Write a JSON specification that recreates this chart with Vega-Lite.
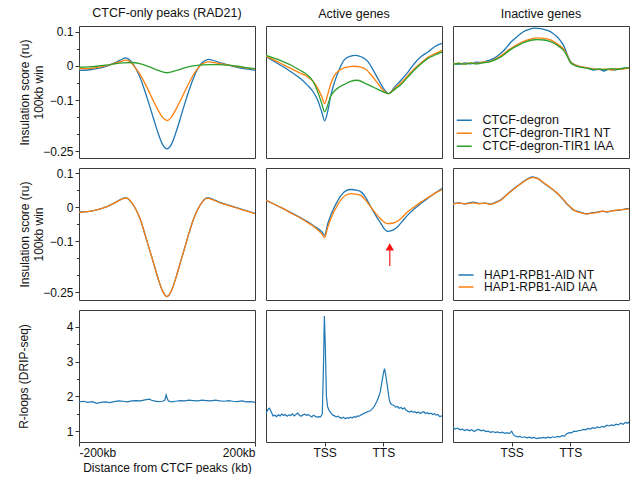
{
  "$schema": "https://vega.github.io/schema/vega-lite/v6.json",
  "background": "white",
  "padding": {"left": 16, "top": 6, "right": 0, "bottom": 0},
  "autosize": {"type": "pad"},
  "config": {
    "font": "Liberation Sans",
    "view": {"stroke": "#3a3a3a", "strokeWidth": 1},
    "axis": {"domain": false, "grid": false, "labelFont": "Liberation Sans", "labelFontSize": 12, "labelColor": "#111", "tickColor": "#333", "titleFont": "Liberation Sans", "titleFontSize": 12, "titleFontWeight": "normal", "titleColor": "#111", "labelPadding": 2},
    "title": {"font": "Liberation Sans", "fontSize": 12.5, "fontWeight": "normal", "color": "#111", "offset": 6, "anchor": "middle"},
    "legend": {"labelFont": "Liberation Sans", "labelFontSize": 12.5, "labelColor": "#111", "symbolType": "M-2.5,0H2.5", "symbolStrokeWidth": 1.5, "symbolSize": 36, "labelOffset": 12, "padding": 0, "offset": 5, "rowPadding": -4, "orient": "bottom-left", "title": null}
  },
  "columns": 3,
  "bounds": "flush",
  "spacing": {"row": 10, "column": 11},
  "resolve": {"scale": {"color": "independent"}},
  "datasets": {
    "r1c1": [
      {"x":-200,"s":"CTCF-degron","v":-0.013},{"x":-180,"s":"CTCF-degron","v":-0.012},{"x":-160,"s":"CTCF-degron","v":-0.008},{"x":-140,"s":"CTCF-degron","v":-0.002},{"x":-120,"s":"CTCF-degron","v":0.008},{"x":-100,"s":"CTCF-degron","v":0.021},{"x":-95,"s":"CTCF-degron","v":0.0235},{"x":-90,"s":"CTCF-degron","v":0.022},{"x":-80,"s":"CTCF-degron","v":0.011},{"x":-70,"s":"CTCF-degron","v":-0.01},{"x":-60,"s":"CTCF-degron","v":-0.038},{"x":-50,"s":"CTCF-degron","v":-0.075},{"x":-40,"s":"CTCF-degron","v":-0.115},{"x":-30,"s":"CTCF-degron","v":-0.157},{"x":-20,"s":"CTCF-degron","v":-0.198},{"x":-10,"s":"CTCF-degron","v":-0.231},{"x":0,"s":"CTCF-degron","v":-0.243},{"x":10,"s":"CTCF-degron","v":-0.23},{"x":20,"s":"CTCF-degron","v":-0.196},{"x":30,"s":"CTCF-degron","v":-0.155},{"x":40,"s":"CTCF-degron","v":-0.112},{"x":50,"s":"CTCF-degron","v":-0.072},{"x":60,"s":"CTCF-degron","v":-0.036},{"x":70,"s":"CTCF-degron","v":-0.008},{"x":80,"s":"CTCF-degron","v":0.01},{"x":90,"s":"CTCF-degron","v":0.018},{"x":95,"s":"CTCF-degron","v":0.019},{"x":100,"s":"CTCF-degron","v":0.018},{"x":120,"s":"CTCF-degron","v":0.01},{"x":140,"s":"CTCF-degron","v":0.002},{"x":160,"s":"CTCF-degron","v":-0.004},{"x":180,"s":"CTCF-degron","v":-0.009},{"x":200,"s":"CTCF-degron","v":-0.013},
      {"x":-200,"s":"CTCF-degron-TIR1 NT","v":-0.008},{"x":-180,"s":"CTCF-degron-TIR1 NT","v":-0.008},{"x":-160,"s":"CTCF-degron-TIR1 NT","v":-0.005},{"x":-140,"s":"CTCF-degron-TIR1 NT","v":0.0},{"x":-120,"s":"CTCF-degron-TIR1 NT","v":0.007},{"x":-100,"s":"CTCF-degron-TIR1 NT","v":0.015},{"x":-95,"s":"CTCF-degron-TIR1 NT","v":0.017},{"x":-90,"s":"CTCF-degron-TIR1 NT","v":0.016},{"x":-80,"s":"CTCF-degron-TIR1 NT","v":0.007},{"x":-70,"s":"CTCF-degron-TIR1 NT","v":-0.009},{"x":-60,"s":"CTCF-degron-TIR1 NT","v":-0.028},{"x":-50,"s":"CTCF-degron-TIR1 NT","v":-0.052},{"x":-40,"s":"CTCF-degron-TIR1 NT","v":-0.078},{"x":-30,"s":"CTCF-degron-TIR1 NT","v":-0.105},{"x":-20,"s":"CTCF-degron-TIR1 NT","v":-0.13},{"x":-10,"s":"CTCF-degron-TIR1 NT","v":-0.151},{"x":0,"s":"CTCF-degron-TIR1 NT","v":-0.16},{"x":10,"s":"CTCF-degron-TIR1 NT","v":-0.15},{"x":20,"s":"CTCF-degron-TIR1 NT","v":-0.128},{"x":30,"s":"CTCF-degron-TIR1 NT","v":-0.103},{"x":40,"s":"CTCF-degron-TIR1 NT","v":-0.076},{"x":50,"s":"CTCF-degron-TIR1 NT","v":-0.05},{"x":60,"s":"CTCF-degron-TIR1 NT","v":-0.026},{"x":70,"s":"CTCF-degron-TIR1 NT","v":-0.007},{"x":80,"s":"CTCF-degron-TIR1 NT","v":0.006},{"x":90,"s":"CTCF-degron-TIR1 NT","v":0.011},{"x":95,"s":"CTCF-degron-TIR1 NT","v":0.012},{"x":100,"s":"CTCF-degron-TIR1 NT","v":0.011},{"x":120,"s":"CTCF-degron-TIR1 NT","v":0.007},{"x":140,"s":"CTCF-degron-TIR1 NT","v":0.002},{"x":160,"s":"CTCF-degron-TIR1 NT","v":-0.002},{"x":180,"s":"CTCF-degron-TIR1 NT","v":-0.006},{"x":200,"s":"CTCF-degron-TIR1 NT","v":-0.009},
      {"x":-200,"s":"CTCF-degron-TIR1 IAA","v":-0.004},{"x":-180,"s":"CTCF-degron-TIR1 IAA","v":-0.003},{"x":-160,"s":"CTCF-degron-TIR1 IAA","v":-0.001},{"x":-140,"s":"CTCF-degron-TIR1 IAA","v":0.002},{"x":-120,"s":"CTCF-degron-TIR1 IAA","v":0.006},{"x":-100,"s":"CTCF-degron-TIR1 IAA","v":0.009},{"x":-80,"s":"CTCF-degron-TIR1 IAA","v":0.01},{"x":-60,"s":"CTCF-degron-TIR1 IAA","v":0.006},{"x":-40,"s":"CTCF-degron-TIR1 IAA","v":-0.003},{"x":-20,"s":"CTCF-degron-TIR1 IAA","v":-0.013},{"x":0,"s":"CTCF-degron-TIR1 IAA","v":-0.02},{"x":20,"s":"CTCF-degron-TIR1 IAA","v":-0.014},{"x":40,"s":"CTCF-degron-TIR1 IAA","v":-0.006},{"x":60,"s":"CTCF-degron-TIR1 IAA","v":0.0},{"x":80,"s":"CTCF-degron-TIR1 IAA","v":0.003},{"x":100,"s":"CTCF-degron-TIR1 IAA","v":0.004},{"x":120,"s":"CTCF-degron-TIR1 IAA","v":0.004},{"x":140,"s":"CTCF-degron-TIR1 IAA","v":0.002},{"x":160,"s":"CTCF-degron-TIR1 IAA","v":-0.001},{"x":180,"s":"CTCF-degron-TIR1 IAA","v":-0.005},{"x":200,"s":"CTCF-degron-TIR1 IAA","v":-0.008}
    ],
    "r1c2": [
      {"x":0,"s":"CTCF-degron","v":0.028},{"x":0.15,"s":"CTCF-degron","v":0.012},{"x":0.3,"s":"CTCF-degron","v":-0.003},{"x":0.43,"s":"CTCF-degron","v":-0.018},{"x":0.57,"s":"CTCF-degron","v":-0.035},{"x":0.71,"s":"CTCF-degron","v":-0.057},{"x":0.8,"s":"CTCF-degron","v":-0.075},{"x":0.88,"s":"CTCF-degron","v":-0.1},{"x":0.95,"s":"CTCF-degron","v":-0.135},{"x":1.0,"s":"CTCF-degron","v":-0.161},{"x":1.05,"s":"CTCF-degron","v":-0.135},{"x":1.1,"s":"CTCF-degron","v":-0.09},{"x":1.16,"s":"CTCF-degron","v":-0.052},{"x":1.25,"s":"CTCF-degron","v":-0.01},{"x":1.33,"s":"CTCF-degron","v":0.017},{"x":1.43,"s":"CTCF-degron","v":0.028},{"x":1.53,"s":"CTCF-degron","v":0.031},{"x":1.63,"s":"CTCF-degron","v":0.026},{"x":1.73,"s":"CTCF-degron","v":0.014},{"x":1.82,"s":"CTCF-degron","v":-0.01},{"x":1.9,"s":"CTCF-degron","v":-0.035},{"x":2.0,"s":"CTCF-degron","v":-0.065},{"x":2.09,"s":"CTCF-degron","v":-0.081},{"x":2.2,"s":"CTCF-degron","v":-0.06},{"x":2.3,"s":"CTCF-degron","v":-0.042},{"x":2.42,"s":"CTCF-degron","v":-0.018},{"x":2.53,"s":"CTCF-degron","v":0.007},{"x":2.65,"s":"CTCF-degron","v":0.028},{"x":2.76,"s":"CTCF-degron","v":0.041},{"x":2.88,"s":"CTCF-degron","v":0.057},{"x":3.0,"s":"CTCF-degron","v":0.066},
      {"x":0,"s":"CTCF-degron-TIR1 NT","v":0.028},{"x":0.15,"s":"CTCF-degron-TIR1 NT","v":0.016},{"x":0.3,"s":"CTCF-degron-TIR1 NT","v":0.003},{"x":0.43,"s":"CTCF-degron-TIR1 NT","v":-0.008},{"x":0.57,"s":"CTCF-degron-TIR1 NT","v":-0.02},{"x":0.71,"s":"CTCF-degron-TIR1 NT","v":-0.032},{"x":0.8,"s":"CTCF-degron-TIR1 NT","v":-0.045},{"x":0.88,"s":"CTCF-degron-TIR1 NT","v":-0.065},{"x":0.95,"s":"CTCF-degron-TIR1 NT","v":-0.09},{"x":1.0,"s":"CTCF-degron-TIR1 NT","v":-0.11},{"x":1.05,"s":"CTCF-degron-TIR1 NT","v":-0.085},{"x":1.1,"s":"CTCF-degron-TIR1 NT","v":-0.055},{"x":1.16,"s":"CTCF-degron-TIR1 NT","v":-0.03},{"x":1.25,"s":"CTCF-degron-TIR1 NT","v":-0.013},{"x":1.33,"s":"CTCF-degron-TIR1 NT","v":-0.006},{"x":1.43,"s":"CTCF-degron-TIR1 NT","v":-0.002},{"x":1.5,"s":"CTCF-degron-TIR1 NT","v":-0.001},{"x":1.6,"s":"CTCF-degron-TIR1 NT","v":-0.003},{"x":1.7,"s":"CTCF-degron-TIR1 NT","v":-0.01},{"x":1.8,"s":"CTCF-degron-TIR1 NT","v":-0.028},{"x":1.9,"s":"CTCF-degron-TIR1 NT","v":-0.05},{"x":2.0,"s":"CTCF-degron-TIR1 NT","v":-0.072},{"x":2.09,"s":"CTCF-degron-TIR1 NT","v":-0.081},{"x":2.2,"s":"CTCF-degron-TIR1 NT","v":-0.065},{"x":2.3,"s":"CTCF-degron-TIR1 NT","v":-0.05},{"x":2.42,"s":"CTCF-degron-TIR1 NT","v":-0.028},{"x":2.53,"s":"CTCF-degron-TIR1 NT","v":-0.008},{"x":2.65,"s":"CTCF-degron-TIR1 NT","v":0.01},{"x":2.76,"s":"CTCF-degron-TIR1 NT","v":0.025},{"x":2.88,"s":"CTCF-degron-TIR1 NT","v":0.036},{"x":3.0,"s":"CTCF-degron-TIR1 NT","v":0.046},
      {"x":0,"s":"CTCF-degron-TIR1 IAA","v":0.031},{"x":0.15,"s":"CTCF-degron-TIR1 IAA","v":0.022},{"x":0.3,"s":"CTCF-degron-TIR1 IAA","v":0.012},{"x":0.43,"s":"CTCF-degron-TIR1 IAA","v":0.002},{"x":0.57,"s":"CTCF-degron-TIR1 IAA","v":-0.012},{"x":0.71,"s":"CTCF-degron-TIR1 IAA","v":-0.027},{"x":0.8,"s":"CTCF-degron-TIR1 IAA","v":-0.045},{"x":0.88,"s":"CTCF-degron-TIR1 IAA","v":-0.075},{"x":0.95,"s":"CTCF-degron-TIR1 IAA","v":-0.11},{"x":1.0,"s":"CTCF-degron-TIR1 IAA","v":-0.135},{"x":1.05,"s":"CTCF-degron-TIR1 IAA","v":-0.115},{"x":1.1,"s":"CTCF-degron-TIR1 IAA","v":-0.09},{"x":1.16,"s":"CTCF-degron-TIR1 IAA","v":-0.075},{"x":1.25,"s":"CTCF-degron-TIR1 IAA","v":-0.062},{"x":1.33,"s":"CTCF-degron-TIR1 IAA","v":-0.055},{"x":1.43,"s":"CTCF-degron-TIR1 IAA","v":-0.046},{"x":1.56,"s":"CTCF-degron-TIR1 IAA","v":-0.042},{"x":1.7,"s":"CTCF-degron-TIR1 IAA","v":-0.052},{"x":1.8,"s":"CTCF-degron-TIR1 IAA","v":-0.06},{"x":1.9,"s":"CTCF-degron-TIR1 IAA","v":-0.068},{"x":2.0,"s":"CTCF-degron-TIR1 IAA","v":-0.076},{"x":2.09,"s":"CTCF-degron-TIR1 IAA","v":-0.081},{"x":2.2,"s":"CTCF-degron-TIR1 IAA","v":-0.068},{"x":2.3,"s":"CTCF-degron-TIR1 IAA","v":-0.055},{"x":2.42,"s":"CTCF-degron-TIR1 IAA","v":-0.032},{"x":2.53,"s":"CTCF-degron-TIR1 IAA","v":-0.012},{"x":2.65,"s":"CTCF-degron-TIR1 IAA","v":0.007},{"x":2.76,"s":"CTCF-degron-TIR1 IAA","v":0.022},{"x":2.88,"s":"CTCF-degron-TIR1 IAA","v":0.032},{"x":3.0,"s":"CTCF-degron-TIR1 IAA","v":0.041}
    ],
    "r1c3": [
      {"x":0,"s":"CTCF-degron","v":0.007},{"x":0.1,"s":"CTCF-degron","v":0.005},{"x":0.2,"s":"CTCF-degron","v":0.009},{"x":0.3,"s":"CTCF-degron","v":0.006},{"x":0.4,"s":"CTCF-degron","v":0.011},{"x":0.5,"s":"CTCF-degron","v":0.01},{"x":0.58,"s":"CTCF-degron","v":0.015},{"x":0.7,"s":"CTCF-degron","v":0.022},{"x":0.8,"s":"CTCF-degron","v":0.035},{"x":0.87,"s":"CTCF-degron","v":0.046},{"x":0.95,"s":"CTCF-degron","v":0.062},{"x":1.02,"s":"CTCF-degron","v":0.075},{"x":1.1,"s":"CTCF-degron","v":0.087},{"x":1.2,"s":"CTCF-degron","v":0.1},{"x":1.3,"s":"CTCF-degron","v":0.107},{"x":1.38,"s":"CTCF-degron","v":0.111},{"x":1.45,"s":"CTCF-degron","v":0.11},{"x":1.53,"s":"CTCF-degron","v":0.108},{"x":1.61,"s":"CTCF-degron","v":0.104},{"x":1.7,"s":"CTCF-degron","v":0.096},{"x":1.77,"s":"CTCF-degron","v":0.086},{"x":1.83,"s":"CTCF-degron","v":0.074},{"x":1.9,"s":"CTCF-degron","v":0.055},{"x":1.95,"s":"CTCF-degron","v":0.032},{"x":2.0,"s":"CTCF-degron","v":0.013},{"x":2.08,"s":"CTCF-degron","v":0.003},{"x":2.18,"s":"CTCF-degron","v":-0.003},{"x":2.3,"s":"CTCF-degron","v":-0.007},{"x":2.4,"s":"CTCF-degron","v":-0.012},{"x":2.5,"s":"CTCF-degron","v":-0.01},{"x":2.57,"s":"CTCF-degron","v":-0.015},{"x":2.65,"s":"CTCF-degron","v":-0.01},{"x":2.75,"s":"CTCF-degron","v":-0.012},{"x":2.85,"s":"CTCF-degron","v":-0.008},{"x":3.0,"s":"CTCF-degron","v":-0.006},
      {"x":0,"s":"CTCF-degron-TIR1 NT","v":0.006},{"x":0.1,"s":"CTCF-degron-TIR1 NT","v":0.008},{"x":0.2,"s":"CTCF-degron-TIR1 NT","v":0.006},{"x":0.3,"s":"CTCF-degron-TIR1 NT","v":0.009},{"x":0.4,"s":"CTCF-degron-TIR1 NT","v":0.007},{"x":0.5,"s":"CTCF-degron-TIR1 NT","v":0.011},{"x":0.6,"s":"CTCF-degron-TIR1 NT","v":0.012},{"x":0.7,"s":"CTCF-degron-TIR1 NT","v":0.018},{"x":0.8,"s":"CTCF-degron-TIR1 NT","v":0.028},{"x":0.87,"s":"CTCF-degron-TIR1 NT","v":0.036},{"x":0.95,"s":"CTCF-degron-TIR1 NT","v":0.047},{"x":1.05,"s":"CTCF-degron-TIR1 NT","v":0.058},{"x":1.15,"s":"CTCF-degron-TIR1 NT","v":0.068},{"x":1.25,"s":"CTCF-degron-TIR1 NT","v":0.075},{"x":1.35,"s":"CTCF-degron-TIR1 NT","v":0.08},{"x":1.44,"s":"CTCF-degron-TIR1 NT","v":0.082},{"x":1.55,"s":"CTCF-degron-TIR1 NT","v":0.081},{"x":1.65,"s":"CTCF-degron-TIR1 NT","v":0.077},{"x":1.75,"s":"CTCF-degron-TIR1 NT","v":0.068},{"x":1.83,"s":"CTCF-degron-TIR1 NT","v":0.058},{"x":1.89,"s":"CTCF-degron-TIR1 NT","v":0.049},{"x":1.95,"s":"CTCF-degron-TIR1 NT","v":0.03},{"x":2.0,"s":"CTCF-degron-TIR1 NT","v":0.012},{"x":2.08,"s":"CTCF-degron-TIR1 NT","v":0.003},{"x":2.18,"s":"CTCF-degron-TIR1 NT","v":-0.002},{"x":2.3,"s":"CTCF-degron-TIR1 NT","v":-0.006},{"x":2.4,"s":"CTCF-degron-TIR1 NT","v":-0.009},{"x":2.5,"s":"CTCF-degron-TIR1 NT","v":-0.011},{"x":2.6,"s":"CTCF-degron-TIR1 NT","v":-0.009},{"x":2.7,"s":"CTCF-degron-TIR1 NT","v":-0.012},{"x":2.8,"s":"CTCF-degron-TIR1 NT","v":-0.008},{"x":2.9,"s":"CTCF-degron-TIR1 NT","v":-0.009},{"x":3.0,"s":"CTCF-degron-TIR1 NT","v":-0.006},
      {"x":0,"s":"CTCF-degron-TIR1 IAA","v":0.005},{"x":0.1,"s":"CTCF-degron-TIR1 IAA","v":0.007},{"x":0.2,"s":"CTCF-degron-TIR1 IAA","v":0.005},{"x":0.3,"s":"CTCF-degron-TIR1 IAA","v":0.008},{"x":0.4,"s":"CTCF-degron-TIR1 IAA","v":0.006},{"x":0.5,"s":"CTCF-degron-TIR1 IAA","v":0.009},{"x":0.6,"s":"CTCF-degron-TIR1 IAA","v":0.011},{"x":0.7,"s":"CTCF-degron-TIR1 IAA","v":0.016},{"x":0.8,"s":"CTCF-degron-TIR1 IAA","v":0.025},{"x":0.87,"s":"CTCF-degron-TIR1 IAA","v":0.033},{"x":0.95,"s":"CTCF-degron-TIR1 IAA","v":0.044},{"x":1.05,"s":"CTCF-degron-TIR1 IAA","v":0.055},{"x":1.15,"s":"CTCF-degron-TIR1 IAA","v":0.064},{"x":1.25,"s":"CTCF-degron-TIR1 IAA","v":0.071},{"x":1.35,"s":"CTCF-degron-TIR1 IAA","v":0.076},{"x":1.44,"s":"CTCF-degron-TIR1 IAA","v":0.077},{"x":1.55,"s":"CTCF-degron-TIR1 IAA","v":0.076},{"x":1.65,"s":"CTCF-degron-TIR1 IAA","v":0.072},{"x":1.75,"s":"CTCF-degron-TIR1 IAA","v":0.064},{"x":1.83,"s":"CTCF-degron-TIR1 IAA","v":0.054},{"x":1.89,"s":"CTCF-degron-TIR1 IAA","v":0.045},{"x":1.95,"s":"CTCF-degron-TIR1 IAA","v":0.027},{"x":2.0,"s":"CTCF-degron-TIR1 IAA","v":0.01},{"x":2.08,"s":"CTCF-degron-TIR1 IAA","v":0.001},{"x":2.18,"s":"CTCF-degron-TIR1 IAA","v":-0.004},{"x":2.3,"s":"CTCF-degron-TIR1 IAA","v":-0.007},{"x":2.4,"s":"CTCF-degron-TIR1 IAA","v":-0.01},{"x":2.5,"s":"CTCF-degron-TIR1 IAA","v":-0.009},{"x":2.6,"s":"CTCF-degron-TIR1 IAA","v":-0.011},{"x":2.7,"s":"CTCF-degron-TIR1 IAA","v":-0.008},{"x":2.8,"s":"CTCF-degron-TIR1 IAA","v":-0.01},{"x":2.9,"s":"CTCF-degron-TIR1 IAA","v":-0.007},{"x":3.0,"s":"CTCF-degron-TIR1 IAA","v":-0.005}
    ],
    "r2c1": [
      {"x":-200,"s":"HAP1-RPB1-AID NT","v":-0.014},{"x":-180,"s":"HAP1-RPB1-AID NT","v":-0.013},{"x":-160,"s":"HAP1-RPB1-AID NT","v":-0.008},{"x":-140,"s":"HAP1-RPB1-AID NT","v":0.0},{"x":-120,"s":"HAP1-RPB1-AID NT","v":0.012},{"x":-100,"s":"HAP1-RPB1-AID NT","v":0.026},{"x":-95,"s":"HAP1-RPB1-AID NT","v":0.028},{"x":-90,"s":"HAP1-RPB1-AID NT","v":0.026},{"x":-80,"s":"HAP1-RPB1-AID NT","v":0.013},{"x":-70,"s":"HAP1-RPB1-AID NT","v":-0.008},{"x":-60,"s":"HAP1-RPB1-AID NT","v":-0.038},{"x":-50,"s":"HAP1-RPB1-AID NT","v":-0.08},{"x":-40,"s":"HAP1-RPB1-AID NT","v":-0.123},{"x":-30,"s":"HAP1-RPB1-AID NT","v":-0.166},{"x":-20,"s":"HAP1-RPB1-AID NT","v":-0.21},{"x":-10,"s":"HAP1-RPB1-AID NT","v":-0.246},{"x":0,"s":"HAP1-RPB1-AID NT","v":-0.262},{"x":10,"s":"HAP1-RPB1-AID NT","v":-0.245},{"x":20,"s":"HAP1-RPB1-AID NT","v":-0.208},{"x":30,"s":"HAP1-RPB1-AID NT","v":-0.164},{"x":40,"s":"HAP1-RPB1-AID NT","v":-0.12},{"x":50,"s":"HAP1-RPB1-AID NT","v":-0.076},{"x":60,"s":"HAP1-RPB1-AID NT","v":-0.036},{"x":70,"s":"HAP1-RPB1-AID NT","v":-0.006},{"x":80,"s":"HAP1-RPB1-AID NT","v":0.015},{"x":90,"s":"HAP1-RPB1-AID NT","v":0.027},{"x":95,"s":"HAP1-RPB1-AID NT","v":0.027},{"x":100,"s":"HAP1-RPB1-AID NT","v":0.025},{"x":120,"s":"HAP1-RPB1-AID NT","v":0.014},{"x":140,"s":"HAP1-RPB1-AID NT","v":0.006},{"x":160,"s":"HAP1-RPB1-AID NT","v":-0.002},{"x":180,"s":"HAP1-RPB1-AID NT","v":-0.01},{"x":200,"s":"HAP1-RPB1-AID NT","v":-0.018},
      {"x":-200,"s":"HAP1-RPB1-AID IAA","v":-0.015},{"x":-180,"s":"HAP1-RPB1-AID IAA","v":-0.013},{"x":-160,"s":"HAP1-RPB1-AID IAA","v":-0.008},{"x":-140,"s":"HAP1-RPB1-AID IAA","v":0.0},{"x":-120,"s":"HAP1-RPB1-AID IAA","v":0.012},{"x":-100,"s":"HAP1-RPB1-AID IAA","v":0.025},{"x":-95,"s":"HAP1-RPB1-AID IAA","v":0.027},{"x":-90,"s":"HAP1-RPB1-AID IAA","v":0.026},{"x":-80,"s":"HAP1-RPB1-AID IAA","v":0.013},{"x":-70,"s":"HAP1-RPB1-AID IAA","v":-0.008},{"x":-60,"s":"HAP1-RPB1-AID IAA","v":-0.038},{"x":-50,"s":"HAP1-RPB1-AID IAA","v":-0.08},{"x":-40,"s":"HAP1-RPB1-AID IAA","v":-0.123},{"x":-30,"s":"HAP1-RPB1-AID IAA","v":-0.166},{"x":-20,"s":"HAP1-RPB1-AID IAA","v":-0.21},{"x":-10,"s":"HAP1-RPB1-AID IAA","v":-0.246},{"x":0,"s":"HAP1-RPB1-AID IAA","v":-0.262},{"x":10,"s":"HAP1-RPB1-AID IAA","v":-0.245},{"x":20,"s":"HAP1-RPB1-AID IAA","v":-0.208},{"x":30,"s":"HAP1-RPB1-AID IAA","v":-0.164},{"x":40,"s":"HAP1-RPB1-AID IAA","v":-0.12},{"x":50,"s":"HAP1-RPB1-AID IAA","v":-0.076},{"x":60,"s":"HAP1-RPB1-AID IAA","v":-0.036},{"x":70,"s":"HAP1-RPB1-AID IAA","v":-0.006},{"x":80,"s":"HAP1-RPB1-AID IAA","v":0.015},{"x":90,"s":"HAP1-RPB1-AID IAA","v":0.026},{"x":95,"s":"HAP1-RPB1-AID IAA","v":0.026},{"x":100,"s":"HAP1-RPB1-AID IAA","v":0.024},{"x":120,"s":"HAP1-RPB1-AID IAA","v":0.013},{"x":140,"s":"HAP1-RPB1-AID IAA","v":0.005},{"x":160,"s":"HAP1-RPB1-AID IAA","v":-0.003},{"x":180,"s":"HAP1-RPB1-AID IAA","v":-0.011},{"x":200,"s":"HAP1-RPB1-AID IAA","v":-0.019}
    ],
    "r2c2": [
      {"x":0,"s":"HAP1-RPB1-AID NT","v":0.02},{"x":0.15,"s":"HAP1-RPB1-AID NT","v":0.008},{"x":0.3,"s":"HAP1-RPB1-AID NT","v":-0.005},{"x":0.45,"s":"HAP1-RPB1-AID NT","v":-0.018},{"x":0.6,"s":"HAP1-RPB1-AID NT","v":-0.032},{"x":0.71,"s":"HAP1-RPB1-AID NT","v":-0.043},{"x":0.8,"s":"HAP1-RPB1-AID NT","v":-0.053},{"x":0.88,"s":"HAP1-RPB1-AID NT","v":-0.062},{"x":0.95,"s":"HAP1-RPB1-AID NT","v":-0.072},{"x":1.0,"s":"HAP1-RPB1-AID NT","v":-0.082},{"x":1.05,"s":"HAP1-RPB1-AID NT","v":-0.05},{"x":1.1,"s":"HAP1-RPB1-AID NT","v":-0.025},{"x":1.14,"s":"HAP1-RPB1-AID NT","v":-0.009},{"x":1.2,"s":"HAP1-RPB1-AID NT","v":0.012},{"x":1.28,"s":"HAP1-RPB1-AID NT","v":0.035},{"x":1.36,"s":"HAP1-RPB1-AID NT","v":0.048},{"x":1.45,"s":"HAP1-RPB1-AID NT","v":0.052},{"x":1.54,"s":"HAP1-RPB1-AID NT","v":0.05},{"x":1.62,"s":"HAP1-RPB1-AID NT","v":0.045},{"x":1.7,"s":"HAP1-RPB1-AID NT","v":0.028},{"x":1.79,"s":"HAP1-RPB1-AID NT","v":0.0},{"x":1.88,"s":"HAP1-RPB1-AID NT","v":-0.027},{"x":1.96,"s":"HAP1-RPB1-AID NT","v":-0.048},{"x":2.02,"s":"HAP1-RPB1-AID NT","v":-0.064},{"x":2.07,"s":"HAP1-RPB1-AID NT","v":-0.071},{"x":2.15,"s":"HAP1-RPB1-AID NT","v":-0.068},{"x":2.24,"s":"HAP1-RPB1-AID NT","v":-0.058},{"x":2.32,"s":"HAP1-RPB1-AID NT","v":-0.042},{"x":2.41,"s":"HAP1-RPB1-AID NT","v":-0.024},{"x":2.52,"s":"HAP1-RPB1-AID NT","v":-0.006},{"x":2.64,"s":"HAP1-RPB1-AID NT","v":0.011},{"x":2.75,"s":"HAP1-RPB1-AID NT","v":0.025},{"x":2.87,"s":"HAP1-RPB1-AID NT","v":0.04},{"x":3.0,"s":"HAP1-RPB1-AID NT","v":0.055},
      {"x":0,"s":"HAP1-RPB1-AID IAA","v":0.02},{"x":0.15,"s":"HAP1-RPB1-AID IAA","v":0.008},{"x":0.3,"s":"HAP1-RPB1-AID IAA","v":-0.005},{"x":0.45,"s":"HAP1-RPB1-AID IAA","v":-0.019},{"x":0.6,"s":"HAP1-RPB1-AID IAA","v":-0.033},{"x":0.71,"s":"HAP1-RPB1-AID IAA","v":-0.045},{"x":0.8,"s":"HAP1-RPB1-AID IAA","v":-0.055},{"x":0.88,"s":"HAP1-RPB1-AID IAA","v":-0.066},{"x":0.95,"s":"HAP1-RPB1-AID IAA","v":-0.078},{"x":1.0,"s":"HAP1-RPB1-AID IAA","v":-0.089},{"x":1.05,"s":"HAP1-RPB1-AID IAA","v":-0.06},{"x":1.1,"s":"HAP1-RPB1-AID IAA","v":-0.035},{"x":1.14,"s":"HAP1-RPB1-AID IAA","v":-0.019},{"x":1.2,"s":"HAP1-RPB1-AID IAA","v":0.0},{"x":1.28,"s":"HAP1-RPB1-AID IAA","v":0.022},{"x":1.36,"s":"HAP1-RPB1-AID IAA","v":0.035},{"x":1.45,"s":"HAP1-RPB1-AID IAA","v":0.04},{"x":1.54,"s":"HAP1-RPB1-AID IAA","v":0.038},{"x":1.62,"s":"HAP1-RPB1-AID IAA","v":0.034},{"x":1.7,"s":"HAP1-RPB1-AID IAA","v":0.02},{"x":1.79,"s":"HAP1-RPB1-AID IAA","v":0.0},{"x":1.88,"s":"HAP1-RPB1-AID IAA","v":-0.02},{"x":1.96,"s":"HAP1-RPB1-AID IAA","v":-0.035},{"x":2.02,"s":"HAP1-RPB1-AID IAA","v":-0.044},{"x":2.07,"s":"HAP1-RPB1-AID IAA","v":-0.048},{"x":2.15,"s":"HAP1-RPB1-AID IAA","v":-0.047},{"x":2.24,"s":"HAP1-RPB1-AID IAA","v":-0.041},{"x":2.32,"s":"HAP1-RPB1-AID IAA","v":-0.03},{"x":2.41,"s":"HAP1-RPB1-AID IAA","v":-0.014},{"x":2.52,"s":"HAP1-RPB1-AID IAA","v":0.0},{"x":2.64,"s":"HAP1-RPB1-AID IAA","v":0.015},{"x":2.75,"s":"HAP1-RPB1-AID IAA","v":0.027},{"x":2.87,"s":"HAP1-RPB1-AID IAA","v":0.04},{"x":3.0,"s":"HAP1-RPB1-AID IAA","v":0.052}
    ],
    "r2c3": [
      {"x":0,"s":"HAP1-RPB1-AID NT","v":0.011},{"x":0.1,"s":"HAP1-RPB1-AID NT","v":0.013},{"x":0.2,"s":"HAP1-RPB1-AID NT","v":0.01},{"x":0.35,"s":"HAP1-RPB1-AID NT","v":0.015},{"x":0.45,"s":"HAP1-RPB1-AID NT","v":0.011},{"x":0.55,"s":"HAP1-RPB1-AID NT","v":0.012},{"x":0.64,"s":"HAP1-RPB1-AID NT","v":0.009},{"x":0.72,"s":"HAP1-RPB1-AID NT","v":0.014},{"x":0.8,"s":"HAP1-RPB1-AID NT","v":0.02},{"x":0.87,"s":"HAP1-RPB1-AID NT","v":0.03},{"x":0.95,"s":"HAP1-RPB1-AID NT","v":0.042},{"x":1.05,"s":"HAP1-RPB1-AID NT","v":0.056},{"x":1.15,"s":"HAP1-RPB1-AID NT","v":0.069},{"x":1.25,"s":"HAP1-RPB1-AID NT","v":0.081},{"x":1.35,"s":"HAP1-RPB1-AID NT","v":0.089},{"x":1.45,"s":"HAP1-RPB1-AID NT","v":0.084},{"x":1.55,"s":"HAP1-RPB1-AID NT","v":0.07},{"x":1.65,"s":"HAP1-RPB1-AID NT","v":0.058},{"x":1.78,"s":"HAP1-RPB1-AID NT","v":0.04},{"x":1.88,"s":"HAP1-RPB1-AID NT","v":0.022},{"x":1.95,"s":"HAP1-RPB1-AID NT","v":0.008},{"x":2.0,"s":"HAP1-RPB1-AID NT","v":0.0},{"x":2.05,"s":"HAP1-RPB1-AID NT","v":-0.008},{"x":2.1,"s":"HAP1-RPB1-AID NT","v":-0.011},{"x":2.2,"s":"HAP1-RPB1-AID NT","v":-0.016},{"x":2.28,"s":"HAP1-RPB1-AID NT","v":-0.019},{"x":2.38,"s":"HAP1-RPB1-AID NT","v":-0.016},{"x":2.48,"s":"HAP1-RPB1-AID NT","v":-0.014},{"x":2.55,"s":"HAP1-RPB1-AID NT","v":-0.012},{"x":2.62,"s":"HAP1-RPB1-AID NT","v":-0.014},{"x":2.72,"s":"HAP1-RPB1-AID NT","v":-0.01},{"x":2.82,"s":"HAP1-RPB1-AID NT","v":-0.009},{"x":2.9,"s":"HAP1-RPB1-AID NT","v":-0.006},{"x":3.0,"s":"HAP1-RPB1-AID NT","v":-0.004},
      {"x":0,"s":"HAP1-RPB1-AID IAA","v":0.01},{"x":0.1,"s":"HAP1-RPB1-AID IAA","v":0.012},{"x":0.2,"s":"HAP1-RPB1-AID IAA","v":0.01},{"x":0.35,"s":"HAP1-RPB1-AID IAA","v":0.013},{"x":0.45,"s":"HAP1-RPB1-AID IAA","v":0.01},{"x":0.55,"s":"HAP1-RPB1-AID IAA","v":0.012},{"x":0.64,"s":"HAP1-RPB1-AID IAA","v":0.008},{"x":0.72,"s":"HAP1-RPB1-AID IAA","v":0.013},{"x":0.8,"s":"HAP1-RPB1-AID IAA","v":0.019},{"x":0.87,"s":"HAP1-RPB1-AID IAA","v":0.029},{"x":0.95,"s":"HAP1-RPB1-AID IAA","v":0.041},{"x":1.05,"s":"HAP1-RPB1-AID IAA","v":0.055},{"x":1.15,"s":"HAP1-RPB1-AID IAA","v":0.068},{"x":1.25,"s":"HAP1-RPB1-AID IAA","v":0.08},{"x":1.35,"s":"HAP1-RPB1-AID IAA","v":0.087},{"x":1.45,"s":"HAP1-RPB1-AID IAA","v":0.083},{"x":1.55,"s":"HAP1-RPB1-AID IAA","v":0.071},{"x":1.65,"s":"HAP1-RPB1-AID IAA","v":0.059},{"x":1.78,"s":"HAP1-RPB1-AID IAA","v":0.041},{"x":1.88,"s":"HAP1-RPB1-AID IAA","v":0.023},{"x":1.95,"s":"HAP1-RPB1-AID IAA","v":0.009},{"x":2.0,"s":"HAP1-RPB1-AID IAA","v":0.001},{"x":2.05,"s":"HAP1-RPB1-AID IAA","v":-0.007},{"x":2.1,"s":"HAP1-RPB1-AID IAA","v":-0.012},{"x":2.2,"s":"HAP1-RPB1-AID IAA","v":-0.017},{"x":2.28,"s":"HAP1-RPB1-AID IAA","v":-0.02},{"x":2.38,"s":"HAP1-RPB1-AID IAA","v":-0.017},{"x":2.48,"s":"HAP1-RPB1-AID IAA","v":-0.015},{"x":2.55,"s":"HAP1-RPB1-AID IAA","v":-0.011},{"x":2.62,"s":"HAP1-RPB1-AID IAA","v":-0.013},{"x":2.72,"s":"HAP1-RPB1-AID IAA","v":-0.011},{"x":2.82,"s":"HAP1-RPB1-AID IAA","v":-0.008},{"x":2.9,"s":"HAP1-RPB1-AID IAA","v":-0.007},{"x":3.0,"s":"HAP1-RPB1-AID IAA","v":-0.005}
    ],
    "arrow": [{"x": 2.11, "tail": -0.172, "shaft": -0.126, "head": -0.116}],
    "r3c1": [
      {"x":-200,"v":1.84},{"x":-190,"v":1.86},{"x":-180,"v":1.83},{"x":-170,"v":1.85},{"x":-160,"v":1.8},{"x":-150,"v":1.83},{"x":-140,"v":1.84},{"x":-130,"v":1.82},{"x":-120,"v":1.85},{"x":-110,"v":1.87},{"x":-100,"v":1.86},{"x":-90,"v":1.84},{"x":-80,"v":1.87},{"x":-70,"v":1.88},{"x":-60,"v":1.87},{"x":-50,"v":1.9},{"x":-40,"v":1.92},{"x":-35,"v":1.89},{"x":-30,"v":1.87},{"x":-20,"v":1.85},{"x":-10,"v":1.86},{"x":-5,"v":1.89},{"x":-2,"v":2.04},{"x":0,"v":1.96},{"x":3,"v":1.87},{"x":10,"v":1.84},{"x":20,"v":1.86},{"x":30,"v":1.88},{"x":40,"v":1.87},{"x":50,"v":1.89},{"x":60,"v":1.88},{"x":70,"v":1.87},{"x":80,"v":1.89},{"x":90,"v":1.88},{"x":100,"v":1.87},{"x":110,"v":1.89},{"x":120,"v":1.87},{"x":130,"v":1.86},{"x":140,"v":1.88},{"x":150,"v":1.86},{"x":160,"v":1.85},{"x":170,"v":1.87},{"x":180,"v":1.84},{"x":190,"v":1.85},{"x":200,"v":1.83}
    ],
    "r3c2": [
      {"x":0,"v":1.5},{"x":0.03,"v":1.62},{"x":0.06,"v":1.66},{"x":0.09,"v":1.55},{"x":0.12,"v":1.44},{"x":0.15,"v":1.46},{"x":0.18,"v":1.42},{"x":0.21,"v":1.47},{"x":0.24,"v":1.44},{"x":0.27,"v":1.49},{"x":0.3,"v":1.45},{"x":0.33,"v":1.48},{"x":0.36,"v":1.43},{"x":0.39,"v":1.47},{"x":0.42,"v":1.45},{"x":0.45,"v":1.5},{"x":0.48,"v":1.44},{"x":0.51,"v":1.48},{"x":0.54,"v":1.52},{"x":0.57,"v":1.46},{"x":0.6,"v":1.43},{"x":0.63,"v":1.47},{"x":0.66,"v":1.49},{"x":0.69,"v":1.45},{"x":0.72,"v":1.48},{"x":0.75,"v":1.44},{"x":0.78,"v":1.41},{"x":0.81,"v":1.46},{"x":0.84,"v":1.43},{"x":0.87,"v":1.4},{"x":0.9,"v":1.42},{"x":0.93,"v":1.41},{"x":0.96,"v":1.5},{"x":0.98,"v":2.9},{"x":0.995,"v":4.31},{"x":1.01,"v":3.5},{"x":1.03,"v":2.0},{"x":1.05,"v":1.7},{"x":1.08,"v":1.58},{"x":1.11,"v":1.52},{"x":1.14,"v":1.46},{"x":1.17,"v":1.44},{"x":1.2,"v":1.41},{"x":1.23,"v":1.43},{"x":1.26,"v":1.39},{"x":1.29,"v":1.37},{"x":1.32,"v":1.4},{"x":1.35,"v":1.36},{"x":1.38,"v":1.39},{"x":1.41,"v":1.37},{"x":1.44,"v":1.4},{"x":1.47,"v":1.38},{"x":1.5,"v":1.42},{"x":1.53,"v":1.4},{"x":1.56,"v":1.44},{"x":1.59,"v":1.43},{"x":1.62,"v":1.47},{"x":1.65,"v":1.49},{"x":1.68,"v":1.52},{"x":1.71,"v":1.54},{"x":1.74,"v":1.57},{"x":1.77,"v":1.58},{"x":1.8,"v":1.62},{"x":1.83,"v":1.68},{"x":1.86,"v":1.76},{"x":1.89,"v":1.86},{"x":1.92,"v":1.98},{"x":1.95,"v":2.15},{"x":1.98,"v":2.45},{"x":2.0,"v":2.65},{"x":2.02,"v":2.8},{"x":2.04,"v":2.62},{"x":2.06,"v":2.4},{"x":2.08,"v":2.15},{"x":2.1,"v":1.92},{"x":2.12,"v":1.8},{"x":2.15,"v":1.76},{"x":2.18,"v":1.74},{"x":2.21,"v":1.69},{"x":2.24,"v":1.71},{"x":2.27,"v":1.66},{"x":2.3,"v":1.68},{"x":2.33,"v":1.64},{"x":2.36,"v":1.67},{"x":2.39,"v":1.6},{"x":2.42,"v":1.57},{"x":2.45,"v":1.55},{"x":2.48,"v":1.58},{"x":2.51,"v":1.54},{"x":2.54,"v":1.56},{"x":2.57,"v":1.52},{"x":2.6,"v":1.55},{"x":2.63,"v":1.51},{"x":2.66,"v":1.54},{"x":2.69,"v":1.56},{"x":2.72,"v":1.51},{"x":2.75,"v":1.53},{"x":2.78,"v":1.5},{"x":2.81,"v":1.52},{"x":2.84,"v":1.48},{"x":2.87,"v":1.5},{"x":2.9,"v":1.46},{"x":2.93,"v":1.48},{"x":2.96,"v":1.42},{"x":3.0,"v":1.44}
    ],
    "r3c3": [
      {"x":0,"v":1.1},{"x":0.04,"v":1.06},{"x":0.08,"v":1.09},{"x":0.12,"v":1.04},{"x":0.16,"v":1.06},{"x":0.2,"v":1.02},{"x":0.24,"v":1.05},{"x":0.28,"v":1.01},{"x":0.32,"v":1.04},{"x":0.36,"v":0.99},{"x":0.4,"v":1.03},{"x":0.44,"v":1.05},{"x":0.48,"v":1.01},{"x":0.52,"v":1.03},{"x":0.56,"v":0.99},{"x":0.6,"v":1.0},{"x":0.64,"v":0.97},{"x":0.68,"v":0.99},{"x":0.72,"v":0.96},{"x":0.76,"v":0.98},{"x":0.8,"v":0.95},{"x":0.84,"v":0.97},{"x":0.88,"v":0.94},{"x":0.92,"v":0.96},{"x":0.96,"v":0.93},{"x":1.0,"v":1.0},{"x":1.03,"v":0.9},{"x":1.06,"v":0.86},{"x":1.1,"v":0.84},{"x":1.14,"v":0.85},{"x":1.18,"v":0.82},{"x":1.22,"v":0.84},{"x":1.26,"v":0.81},{"x":1.3,"v":0.83},{"x":1.34,"v":0.8},{"x":1.38,"v":0.82},{"x":1.42,"v":0.79},{"x":1.46,"v":0.81},{"x":1.5,"v":0.8},{"x":1.54,"v":0.82},{"x":1.58,"v":0.8},{"x":1.62,"v":0.83},{"x":1.66,"v":0.81},{"x":1.7,"v":0.84},{"x":1.74,"v":0.82},{"x":1.78,"v":0.85},{"x":1.82,"v":0.84},{"x":1.86,"v":0.87},{"x":1.9,"v":0.86},{"x":1.94,"v":0.93},{"x":1.98,"v":0.96},{"x":2.02,"v":0.95},{"x":2.06,"v":1.0},{"x":2.1,"v":0.99},{"x":2.14,"v":1.02},{"x":2.18,"v":1.02},{"x":2.22,"v":1.05},{"x":2.26,"v":1.04},{"x":2.3,"v":1.08},{"x":2.34,"v":1.06},{"x":2.38,"v":1.1},{"x":2.42,"v":1.08},{"x":2.46,"v":1.12},{"x":2.5,"v":1.1},{"x":2.54,"v":1.14},{"x":2.58,"v":1.12},{"x":2.62,"v":1.17},{"x":2.66,"v":1.15},{"x":2.7,"v":1.18},{"x":2.74,"v":1.16},{"x":2.78,"v":1.2},{"x":2.82,"v":1.18},{"x":2.86,"v":1.23},{"x":2.9,"v":1.2},{"x":2.94,"v":1.25},{"x":2.98,"v":1.23},{"x":3.0,"v":1.27}
    ]
  },
  "concat": [
    {
      "width": 176, "height": 132,
      "title": "CTCF-only peaks (RAD21)",
      "data": {"name": "r1c1"},
      "mark": {"type": "line", "strokeWidth": 1.3, "clip": true, "interpolate": "monotone"},
      "encoding": {
        "x": {"field": "x", "type": "quantitative", "scale": {"domain": [-200, 200], "nice": false}, "axis": null},
        "y": {"field": "v", "type": "quantitative", "scale": {"domain": [-0.27, 0.117], "nice": false, "zero": false},
          "axis": {"values": [-0.25, -0.2, -0.15, -0.1, -0.05, 0, 0.05, 0.1],
            "labelExpr": "abs(datum.value-0.1)<0.001 ? '0.1' : abs(datum.value)<0.001 ? '0' : abs(datum.value+0.1)<0.001 ? '\u22120.1' : abs(datum.value+0.25)<0.001 ? '\u22120.25' : ''",
            "tickSize": {"condition": {"test": "abs(datum.value-0.1)<0.001 || abs(datum.value)<0.001 || abs(datum.value+0.1)<0.001 || abs(datum.value+0.25)<0.001", "value": 4}, "value": 2.5},
            "title": ["Insulation score (ru)", "100kb win"], "titleLineHeight": 14, "titlePadding": 4, "minExtent": 30, "maxExtent": 30}},
        "color": {"field": "s", "type": "nominal", "scale": {"domain": ["CTCF-degron", "CTCF-degron-TIR1 NT", "CTCF-degron-TIR1 IAA"], "range": ["#1f77b4", "#ff7f0e", "#2ca02c"]}, "legend": null}
      }
    },
    {
      "width": 176, "height": 132,
      "title": "Active genes",
      "data": {"name": "r1c2"},
      "mark": {"type": "line", "strokeWidth": 1.3, "clip": true, "interpolate": "monotone"},
      "encoding": {
        "x": {"field": "x", "type": "quantitative", "scale": {"domain": [0, 3], "nice": false}, "axis": null},
        "y": {"field": "v", "type": "quantitative", "scale": {"domain": [-0.27, 0.117], "nice": false, "zero": false}, "axis": null},
        "color": {"field": "s", "type": "nominal", "scale": {"domain": ["CTCF-degron", "CTCF-degron-TIR1 NT", "CTCF-degron-TIR1 IAA"], "range": ["#1f77b4", "#ff7f0e", "#2ca02c"]}, "legend": null}
      }
    },
    {
      "width": 176, "height": 132,
      "title": "Inactive genes",
      "data": {"name": "r1c3"},
      "mark": {"type": "line", "strokeWidth": 1.3, "clip": true, "interpolate": "monotone"},
      "encoding": {
        "x": {"field": "x", "type": "quantitative", "scale": {"domain": [0, 3], "nice": false}, "axis": null},
        "y": {"field": "v", "type": "quantitative", "scale": {"domain": [-0.27, 0.117], "nice": false, "zero": false}, "axis": null},
        "color": {"field": "s", "type": "nominal", "scale": {"domain": ["CTCF-degron", "CTCF-degron-TIR1 NT", "CTCF-degron-TIR1 IAA"], "range": ["#1f77b4", "#ff7f0e", "#2ca02c"]},
          "legend": {"orient": "bottom-left"}}
      }
    },
    {
      "width": 176, "height": 132,
      "data": {"name": "r2c1"},
      "mark": {"type": "line", "strokeWidth": 1.3, "clip": true, "interpolate": "monotone"},
      "encoding": {
        "x": {"field": "x", "type": "quantitative", "scale": {"domain": [-200, 200], "nice": false}, "axis": null},
        "y": {"field": "v", "type": "quantitative", "scale": {"domain": [-0.272, 0.115], "nice": false, "zero": false},
          "axis": {"values": [-0.25, -0.2, -0.15, -0.1, -0.05, 0, 0.05, 0.1],
            "labelExpr": "abs(datum.value-0.1)<0.001 ? '0.1' : abs(datum.value)<0.001 ? '0' : abs(datum.value+0.1)<0.001 ? '\u22120.1' : abs(datum.value+0.25)<0.001 ? '\u22120.25' : ''",
            "tickSize": {"condition": {"test": "abs(datum.value-0.1)<0.001 || abs(datum.value)<0.001 || abs(datum.value+0.1)<0.001 || abs(datum.value+0.25)<0.001", "value": 4}, "value": 2.5},
            "title": ["Insulation score (ru)", "100kb win"], "titleLineHeight": 14, "titlePadding": 4, "minExtent": 30, "maxExtent": 30}},
        "color": {"field": "s", "type": "nominal", "scale": {"domain": ["HAP1-RPB1-AID NT", "HAP1-RPB1-AID IAA"], "range": ["#1f77b4", "#ff7f0e"]}, "legend": null}
      }
    },
    {
      "width": 176, "height": 132,
      "layer": [
        {
          "data": {"name": "r2c2"},
          "mark": {"type": "line", "strokeWidth": 1.3, "clip": true, "interpolate": "monotone"},
          "encoding": {
            "x": {"field": "x", "type": "quantitative", "scale": {"domain": [0, 3], "nice": false}, "axis": null},
            "y": {"field": "v", "type": "quantitative", "scale": {"domain": [-0.272, 0.115], "nice": false, "zero": false}, "axis": null},
            "color": {"field": "s", "type": "nominal", "scale": {"domain": ["HAP1-RPB1-AID NT", "HAP1-RPB1-AID IAA"], "range": ["#1f77b4", "#ff7f0e"]}, "legend": null}
          }
        },
        {
          "data": {"name": "arrow"},
          "mark": {"type": "rule", "color": "#f03a3a", "strokeWidth": 1.4},
          "encoding": {
            "x": {"field": "x", "type": "quantitative"},
            "y": {"field": "tail", "type": "quantitative"},
            "y2": {"field": "shaft"}
          }
        },
        {
          "data": {"name": "arrow"},
          "mark": {"type": "point", "shape": "triangle-up", "filled": true, "color": "#ff1010", "opacity": 1, "size": 70},
          "encoding": {
            "x": {"field": "x", "type": "quantitative"},
            "y": {"field": "head", "type": "quantitative"}
          }
        }
      ]
    },
    {
      "width": 176, "height": 132,
      "data": {"name": "r2c3"},
      "mark": {"type": "line", "strokeWidth": 1.3, "clip": true, "interpolate": "monotone"},
      "encoding": {
        "x": {"field": "x", "type": "quantitative", "scale": {"domain": [0, 3], "nice": false}, "axis": null},
        "y": {"field": "v", "type": "quantitative", "scale": {"domain": [-0.272, 0.115], "nice": false, "zero": false}, "axis": null},
        "color": {"field": "s", "type": "nominal", "scale": {"domain": ["HAP1-RPB1-AID NT", "HAP1-RPB1-AID IAA"], "range": ["#1f77b4", "#ff7f0e"]},
          "legend": {"orient": "bottom-left", "offset": 7, "rowPadding": -2, "labelFontSize": 12}}
      }
    },
    {
      "width": 176, "height": 132,
      "data": {"name": "r3c1"},
      "mark": {"type": "line", "strokeWidth": 1.2, "clip": true, "color": "#1f77b4"},
      "encoding": {
        "x": {"field": "x", "type": "quantitative", "scale": {"domain": [-200, 200], "nice": false},
          "axis": {"values": [-200, 200], "labelExpr": "datum.value < 0 ? '-200kb' : '200kb'", "labelFlush": true, "tickSize": 4, "labelPadding": 1, "title": "Distance from CTCF peaks (kb)", "titlePadding": 4}},
        "y": {"field": "v", "type": "quantitative", "scale": {"domain": [0.69, 4.48], "nice": false, "zero": false},
          "axis": {"values": [1, 1.5, 2, 2.5, 3, 3.5, 4], "labelExpr": "datum.value % 1 == 0 ? format(datum.value, 'd') : ''",
            "tickSize": {"condition": {"test": "datum.value % 1 == 0", "value": 4}, "value": 2.5},
            "title": "R-loops (DRIP-seq)", "titlePadding": 4, "minExtent": 45, "maxExtent": 45}}
      }
    },
    {
      "width": 176, "height": 132,
      "data": {"name": "r3c2"},
      "mark": {"type": "line", "strokeWidth": 1.2, "clip": true, "color": "#1f77b4"},
      "encoding": {
        "x": {"field": "x", "type": "quantitative", "scale": {"domain": [0, 3], "nice": false},
          "axis": {"values": [1, 2], "labelExpr": "datum.value == 1 ? 'TSS' : 'TTS'", "tickSize": 4, "labelPadding": 1, "title": null}},
        "y": {"field": "v", "type": "quantitative", "scale": {"domain": [0.69, 4.48], "nice": false, "zero": false}, "axis": null}
      }
    },
    {
      "width": 176, "height": 132,
      "data": {"name": "r3c3"},
      "mark": {"type": "line", "strokeWidth": 1.2, "clip": true, "color": "#1f77b4"},
      "encoding": {
        "x": {"field": "x", "type": "quantitative", "scale": {"domain": [0, 3], "nice": false},
          "axis": {"values": [1, 2], "labelExpr": "datum.value == 1 ? 'TSS' : 'TTS'", "tickSize": 4, "labelPadding": 1, "title": null}},
        "y": {"field": "v", "type": "quantitative", "scale": {"domain": [0.69, 4.48], "nice": false, "zero": false}, "axis": null}
      }
    }
  ]
}
